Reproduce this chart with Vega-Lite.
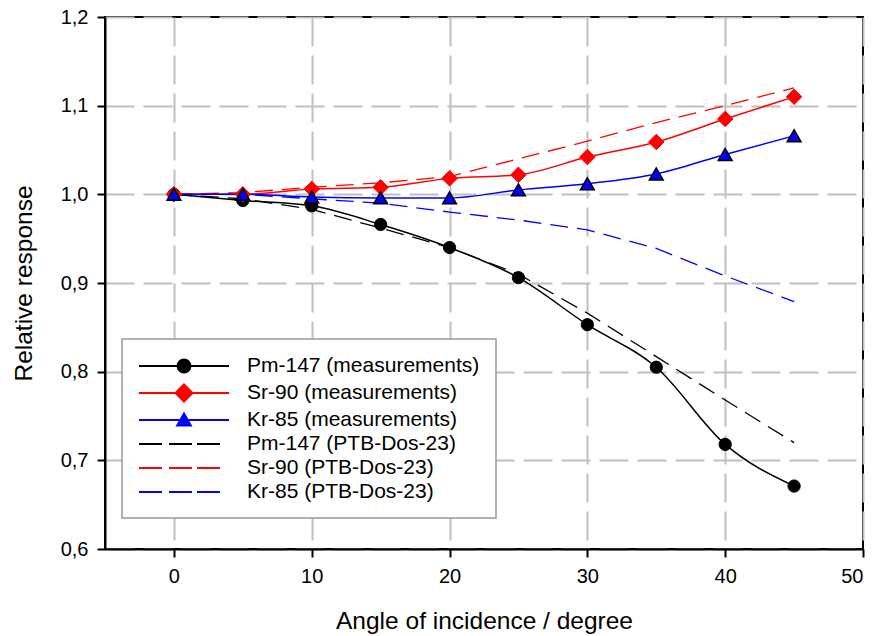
{
  "$schema": "https://vega.github.io/schema/vega-lite/v6.json",
  "width": 758,
  "height": 532,
  "autosize": {"type": "none"},
  "padding": {"left": 105, "top": 17, "right": 25, "bottom": 87},
  "background": "white",
  "config": {
    "view": {"stroke": "black", "strokeWidth": 2},
    "axis": {
      "domainColor": "black", "domainWidth": 2,
      "tickColor": "black", "tickWidth": 2, "tickSize": 8,
      "labelFont": "Liberation Sans", "labelFontSize": 20, "labelColor": "black", "labelPadding": 9,
      "titleFont": "Liberation Sans", "titleFontSize": 24.5, "titleFontWeight": "normal", "titleColor": "black",
      "gridColor": "#c0c0c0", "gridWidth": 2, "gridDash": [29, 9]
    },
    "legend": {
      "orient": "none", "legendX": 17, "legendY": 322,
      "padding": 16, "fillColor": "white", "strokeColor": "#999999", "strokeWidth": 1.5,
      "symbolSize": 400, "symbolStrokeWidth": 2, "symbolOffset": 35, "symbolOpacity": 1,
      "labelOffset": 52, "labelFont": "Liberation Sans", "labelFontSize": 21, "labelColor": "black",
      "labelLimit": 0, "rowPadding": 3
    }
  },
  "data": {
    "values": [
      {"angle": 0, "value": 1.000, "series": "Pm-147 (measurements)", "type": "meas"},
      {"angle": 5, "value": 0.993, "series": "Pm-147 (measurements)", "type": "meas"},
      {"angle": 10, "value": 0.987, "series": "Pm-147 (measurements)", "type": "meas"},
      {"angle": 15, "value": 0.966, "series": "Pm-147 (measurements)", "type": "meas"},
      {"angle": 20, "value": 0.940, "series": "Pm-147 (measurements)", "type": "meas"},
      {"angle": 25, "value": 0.906, "series": "Pm-147 (measurements)", "type": "meas"},
      {"angle": 30, "value": 0.853, "series": "Pm-147 (measurements)", "type": "meas"},
      {"angle": 35, "value": 0.805, "series": "Pm-147 (measurements)", "type": "meas"},
      {"angle": 40, "value": 0.718, "series": "Pm-147 (measurements)", "type": "meas"},
      {"angle": 45, "value": 0.671, "series": "Pm-147 (measurements)", "type": "meas"},
      {"angle": 0, "value": 1.000, "series": "Sr-90 (measurements)", "type": "meas"},
      {"angle": 5, "value": 1.000, "series": "Sr-90 (measurements)", "type": "meas"},
      {"angle": 10, "value": 1.006, "series": "Sr-90 (measurements)", "type": "meas"},
      {"angle": 15, "value": 1.008, "series": "Sr-90 (measurements)", "type": "meas"},
      {"angle": 20, "value": 1.018, "series": "Sr-90 (measurements)", "type": "meas"},
      {"angle": 25, "value": 1.022, "series": "Sr-90 (measurements)", "type": "meas"},
      {"angle": 30, "value": 1.042, "series": "Sr-90 (measurements)", "type": "meas"},
      {"angle": 35, "value": 1.059, "series": "Sr-90 (measurements)", "type": "meas"},
      {"angle": 40, "value": 1.085, "series": "Sr-90 (measurements)", "type": "meas"},
      {"angle": 45, "value": 1.110, "series": "Sr-90 (measurements)", "type": "meas"},
      {"angle": 0, "value": 1.000, "series": "Kr-85 (measurements)", "type": "meas"},
      {"angle": 5, "value": 1.000, "series": "Kr-85 (measurements)", "type": "meas"},
      {"angle": 10, "value": 0.997, "series": "Kr-85 (measurements)", "type": "meas"},
      {"angle": 15, "value": 0.996, "series": "Kr-85 (measurements)", "type": "meas"},
      {"angle": 20, "value": 0.996, "series": "Kr-85 (measurements)", "type": "meas"},
      {"angle": 25, "value": 1.005, "series": "Kr-85 (measurements)", "type": "meas"},
      {"angle": 30, "value": 1.012, "series": "Kr-85 (measurements)", "type": "meas"},
      {"angle": 35, "value": 1.023, "series": "Kr-85 (measurements)", "type": "meas"},
      {"angle": 40, "value": 1.045, "series": "Kr-85 (measurements)", "type": "meas"},
      {"angle": 45, "value": 1.066, "series": "Kr-85 (measurements)", "type": "meas"},
      {"angle": 0, "value": 1.000, "series": "Pm-147 (PTB-Dos-23)", "type": "ptb"},
      {"angle": 5, "value": 0.995, "series": "Pm-147 (PTB-Dos-23)", "type": "ptb"},
      {"angle": 10, "value": 0.983, "series": "Pm-147 (PTB-Dos-23)", "type": "ptb"},
      {"angle": 15, "value": 0.962, "series": "Pm-147 (PTB-Dos-23)", "type": "ptb"},
      {"angle": 20, "value": 0.940, "series": "Pm-147 (PTB-Dos-23)", "type": "ptb"},
      {"angle": 25, "value": 0.910, "series": "Pm-147 (PTB-Dos-23)", "type": "ptb"},
      {"angle": 30, "value": 0.866, "series": "Pm-147 (PTB-Dos-23)", "type": "ptb"},
      {"angle": 35, "value": 0.817, "series": "Pm-147 (PTB-Dos-23)", "type": "ptb"},
      {"angle": 40, "value": 0.768, "series": "Pm-147 (PTB-Dos-23)", "type": "ptb"},
      {"angle": 45, "value": 0.720, "series": "Pm-147 (PTB-Dos-23)", "type": "ptb"},
      {"angle": 0, "value": 1.000, "series": "Sr-90 (PTB-Dos-23)", "type": "ptb"},
      {"angle": 5, "value": 1.002, "series": "Sr-90 (PTB-Dos-23)", "type": "ptb"},
      {"angle": 10, "value": 1.008, "series": "Sr-90 (PTB-Dos-23)", "type": "ptb"},
      {"angle": 15, "value": 1.013, "series": "Sr-90 (PTB-Dos-23)", "type": "ptb"},
      {"angle": 20, "value": 1.020, "series": "Sr-90 (PTB-Dos-23)", "type": "ptb"},
      {"angle": 25, "value": 1.040, "series": "Sr-90 (PTB-Dos-23)", "type": "ptb"},
      {"angle": 30, "value": 1.060, "series": "Sr-90 (PTB-Dos-23)", "type": "ptb"},
      {"angle": 35, "value": 1.081, "series": "Sr-90 (PTB-Dos-23)", "type": "ptb"},
      {"angle": 40, "value": 1.100, "series": "Sr-90 (PTB-Dos-23)", "type": "ptb"},
      {"angle": 45, "value": 1.120, "series": "Sr-90 (PTB-Dos-23)", "type": "ptb"},
      {"angle": 0, "value": 1.000, "series": "Kr-85 (PTB-Dos-23)", "type": "ptb"},
      {"angle": 5, "value": 1.000, "series": "Kr-85 (PTB-Dos-23)", "type": "ptb"},
      {"angle": 10, "value": 0.995, "series": "Kr-85 (PTB-Dos-23)", "type": "ptb"},
      {"angle": 15, "value": 0.990, "series": "Kr-85 (PTB-Dos-23)", "type": "ptb"},
      {"angle": 20, "value": 0.980, "series": "Kr-85 (PTB-Dos-23)", "type": "ptb"},
      {"angle": 25, "value": 0.971, "series": "Kr-85 (PTB-Dos-23)", "type": "ptb"},
      {"angle": 30, "value": 0.960, "series": "Kr-85 (PTB-Dos-23)", "type": "ptb"},
      {"angle": 35, "value": 0.939, "series": "Kr-85 (PTB-Dos-23)", "type": "ptb"},
      {"angle": 40, "value": 0.908, "series": "Kr-85 (PTB-Dos-23)", "type": "ptb"},
      {"angle": 45, "value": 0.879, "series": "Kr-85 (PTB-Dos-23)", "type": "ptb"}
    ]
  },
  "encoding": {
    "x": {
      "field": "angle", "type": "quantitative",
      "scale": {"domain": [-5, 50], "nice": false, "zero": false},
      "axis": {"values": [0, 10, 20, 30, 40, 50], "title": "Angle of incidence / degree", "titlePadding": 23}
    },
    "y": {
      "field": "value", "type": "quantitative",
      "scale": {"domain": [0.6, 1.2], "nice": false, "zero": false},
      "axis": {
        "values": [0.6, 0.7, 0.8, 0.9, 1.0, 1.1, 1.2],
        "labelExpr": "replace(format(datum.value, '.1f'), '.', ',')",
        "title": "Relative response", "titlePadding": 24
      }
    }
  },
  "layer": [
    {
      "mark": {"type": "point", "filled": true, "opacity": 0, "size": 400, "clip": true},
      "encoding": {
        "color": {
          "field": "series", "type": "nominal",
          "scale": {
            "domain": ["Pm-147 (measurements)", "Sr-90 (measurements)", "Kr-85 (measurements)", "Pm-147 (PTB-Dos-23)", "Sr-90 (PTB-Dos-23)", "Kr-85 (PTB-Dos-23)"],
            "range": ["#000000", "#ff0000", "#0000ff", "#000000", "#ff0000", "#0000ff"]
          },
          "legend": {"title": null}
        },
        "stroke": {
          "field": "series", "type": "nominal",
          "scale": {
            "domain": ["Pm-147 (measurements)", "Sr-90 (measurements)", "Kr-85 (measurements)", "Pm-147 (PTB-Dos-23)", "Sr-90 (PTB-Dos-23)", "Kr-85 (PTB-Dos-23)"],
            "range": ["#000000", "#ff0000", "#0000ff", "#000000", "#ff0000", "#0000ff"]
          },
          "legend": {"title": null}
        },
        "shape": {
          "field": "series", "type": "nominal",
          "scale": {
            "domain": ["Pm-147 (measurements)", "Sr-90 (measurements)", "Kr-85 (measurements)", "Pm-147 (PTB-Dos-23)", "Sr-90 (PTB-Dos-23)", "Kr-85 (PTB-Dos-23)"],
            "range": [
              "M-4.5,0H4.5M0.65,0C0.65,0.359,0.359,0.65,0,0.65C-0.359,0.65,-0.65,0.359,-0.65,0C-0.65,-0.359,-0.359,-0.65,0,-0.65C0.359,-0.65,0.65,-0.359,0.65,0Z",
              "M-4.5,0H4.5M0,-0.85L0.85,0L0,0.85L-0.85,0Z",
              "M-4.5,0H4.5M0,-0.65L0.68,0.55L-0.68,0.55Z",
              "M-4.5,0H-2.2M-1.5,0H0.8M1.3,0H3.6",
              "M-4.5,0H-2.2M-1.5,0H0.8M1.3,0H3.6",
              "M-4.5,0H-2.2M-1.5,0H0.8M1.3,0H3.6"
            ]
          },
          "legend": {"title": null}
        }
      }
    },
    {
      "transform": [{"filter": "datum.type === 'ptb'"}],
      "mark": {"type": "line", "strokeWidth": 1.3, "strokeDash": [18, 9]},
      "encoding": {
        "color": {
          "field": "series", "type": "nominal",
          "scale": {
            "domain": ["Pm-147 (measurements)", "Sr-90 (measurements)", "Kr-85 (measurements)", "Pm-147 (PTB-Dos-23)", "Sr-90 (PTB-Dos-23)", "Kr-85 (PTB-Dos-23)"],
            "range": ["#000000", "#ff0000", "#0000ff", "#000000", "#ff0000", "#0000ff"]
          },
          "legend": null
        }
      }
    },
    {
      "transform": [{"filter": "datum.type === 'meas'"}],
      "mark": {"type": "line", "strokeWidth": 1.5, "interpolate": "monotone"},
      "encoding": {
        "color": {
          "field": "series", "type": "nominal",
          "scale": {
            "domain": ["Pm-147 (measurements)", "Sr-90 (measurements)", "Kr-85 (measurements)", "Pm-147 (PTB-Dos-23)", "Sr-90 (PTB-Dos-23)", "Kr-85 (PTB-Dos-23)"],
            "range": ["#000000", "#ff0000", "#0000ff", "#000000", "#ff0000", "#0000ff"]
          },
          "legend": null
        }
      }
    },
    {
      "transform": [{"filter": "datum.series === 'Pm-147 (measurements)'"}],
      "mark": {"type": "point", "shape": "circle", "filled": true, "size": 150, "fill": "#000000", "stroke": "#000000", "strokeWidth": 1, "opacity": 1}
    },
    {
      "transform": [{"filter": "datum.series === 'Sr-90 (measurements)'"}],
      "mark": {"type": "point", "shape": "diamond", "filled": true, "size": 240, "fill": "#ff0000", "stroke": "#ff0000", "strokeWidth": 1, "opacity": 1}
    },
    {
      "transform": [{"filter": "datum.series === 'Kr-85 (measurements)'"}],
      "mark": {"type": "point", "shape": "triangle-up", "filled": true, "size": 190, "fill": "#0000ff", "stroke": "#000000", "strokeWidth": 1.5, "opacity": 1}
    }
  ]
}
